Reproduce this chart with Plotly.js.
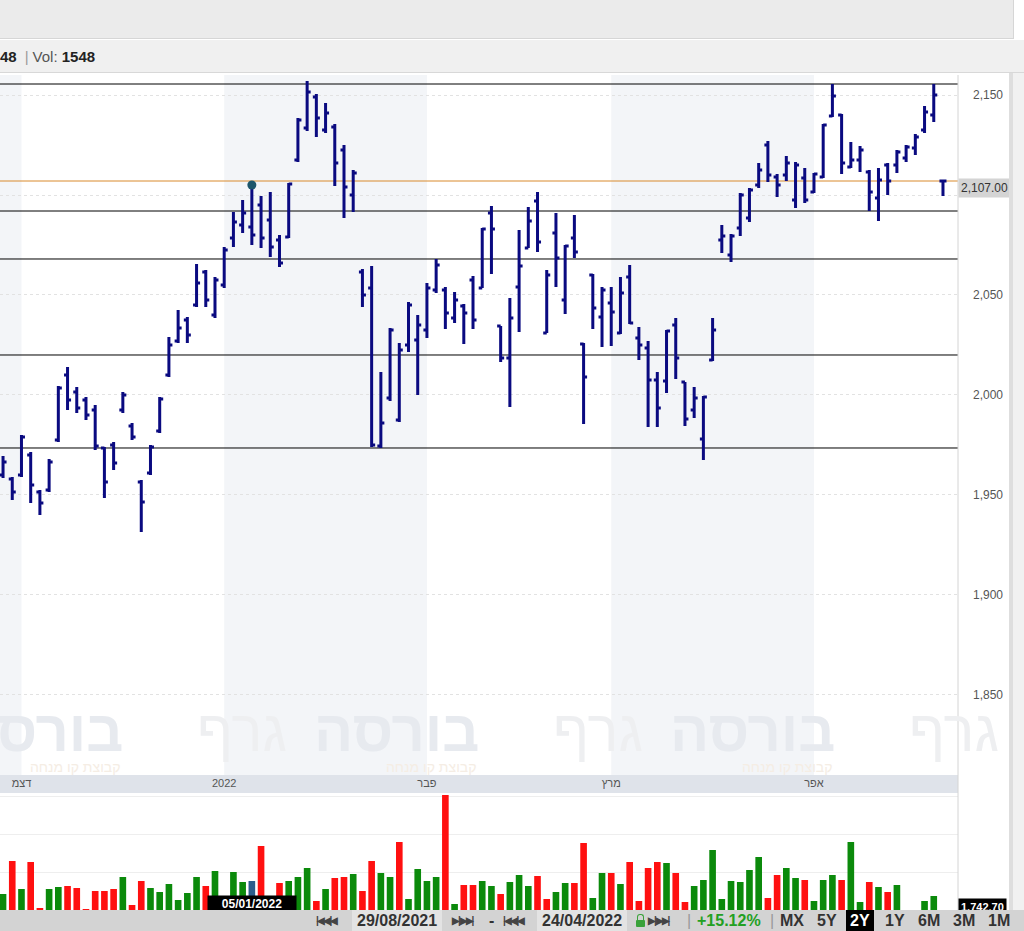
<!DOCTYPE html>
<html>
<head>
<meta charset="utf-8">
<script src="https://cdn.plot.ly/plotly-3.0.1.min.js"></script>
<style>
  html, body { margin: 0; padding: 0; width: 1024px; height: 931px; overflow: hidden; background: #fff;
    font-family: "Liberation Sans", Arial, sans-serif; }
  #top { position: absolute; left: 0; top: 0; width: 1013px; height: 38px; background: #ebebeb;
    border-bottom: 1px solid #d6d6d6; border-right: 1px solid #d6d6d6; }
  #info { position: absolute; left: 0; top: 40px; width: 1024px; height: 32px; background: #f0f0f0;
    border-bottom: 1px solid #d8d8d8; font-size: 15px; line-height: 33px; color: #222; white-space: nowrap; }
  #info b { font-weight: bold; }
  #info .sep { color: #999; margin: 0 4px 0 8px; }
  #info .lbl { color: #555; }
  #chart { position: absolute; left: 0; top: 73px; width: 1024px; height: 837px; }
  #rail1 { position: absolute; left: 1009px; top: 73px; width: 4px; height: 837px; background: #dedede; }
  #rail2 { position: absolute; left: 1013px; top: 73px; width: 11px; height: 837px; background: #f1f1f1; }
  #bar { position: absolute; left: 0; top: 910px; width: 1024px; height: 21px; background: #d3d3d3;
    font-size: 16px; font-weight: bold; color: #333; white-space: nowrap; }
  #bar span { position: absolute; top: 0; line-height: 22px; }
  #bar .ico { font-size: 10px; letter-spacing: -2px; color: #444; }
  #bar .box { background: #e3e3e3; padding: 0 5px; }
  #bar .up { color: #22a022; }
  #bar .sel { background: #000; color: #fff; padding: 0 4px; }
  #bar .thin { color: #999; font-weight: normal; }
  #lock { position: absolute; left: 636px; top: 10px; width: 9px; height: 7px; background: #3aa23a; border-radius: 1px; }
  #lock:before { content: ""; position: absolute; left: 1px; top: -6px; width: 5px; height: 5px;
    border: 1px solid #3aa23a; border-bottom: none; border-radius: 3px 3px 0 0; }
</style>
</head>
<body>
<div id="top"></div>
<div id="info"><b>48</b><span class="sep">|</span><span class="lbl">Vol: </span><b>1548</b></div>
<div id="chart"></div>
<div id="rail1"></div>
<div id="rail2"></div>
<div id="bar">
  <span class="ico" style="left:316px">|◀◀ |◀</span>
  <span class="box" style="left:352px">29/08/2021</span>
  <span class="ico" style="left:452px">▶| ▶▶|</span>
  <span style="left:489px">-</span>
  <span class="ico" style="left:503px">|◀◀ |◀</span>
  <span class="box" style="left:537px">24/04/2022</span>
  <div id="lock"></div>
  <span class="ico" style="left:648px">▶| ▶▶|</span>
  <span class="thin" style="left:687px">|</span>
  <span class="up" style="left:697px">+15.12%</span>
  <span class="thin" style="left:770px">|</span>
  <span style="left:780px">MX</span>
  <span style="left:817px">5Y</span>
  <span class="sel" style="left:846px">2Y</span>
  <span style="left:885px">1Y</span>
  <span style="left:918px">6M</span>
  <span style="left:953px">3M</span>
  <span style="left:988px">1M</span>
</div>
<script>
// daily bars, 29/11/2021 .. 24/04/2022
var openPx = [1960, 1958, 1960, 1970, 1951.5, 1952.5, 1977.5, 2010, 2001.5, 1997.5,
  1992.5, 1973.5, 1975, 1992.5, 1984.5, 1956.5, 1961, 1982, 2010, 2027,
  2037.5, 2045, 2061.5, 2040, 2055, 2078.5, 2085, 2084, 2095, 2087.5,
  2077.5, 2079, 2117.5, 2133.5, 2149, 2132.5, 2134, 2122.5, 2100, 2061.5,
  2053.5, 1974.5, 1998.5, 1987.5, 2025, 2027.5, 2032.5, 2052.5, 2052.5, 2038.5,
  2044.5, 2057.5, 2053.5, 2091, 2034.5, 2018.5, 2054, 2073.5, 2097, 2031,
  2081, 2047.5, 2078.5, 2025.5, 2060, 2039, 2046, 2031, 2059, 2028.5,
  2023.5, 2007.5, 2007, 2035, 2006.5, 1992.5, 1978, 2017.5, 2077.5, 2070,
  2083.5, 2088.5, 2105, 2125, 2109, 2110, 2097.5, 2108.5, 2101.5, 2109,
  2139.5, 2140, 2114, 2117.5, 2111.5, 2098.5, 2115, 2115, 2118.5, 2123.5,
  2132.5, 2140, 2107];
var highPx = [1969.5, 1959, 1980, 1971.5, 1952.5, 1968, 2004.5, 2014, 2004, 1999,
  1995, 1974, 1976.5, 2001.5, 1986, 1957.5, 1975, 1999, 2029, 2042.5,
  2039, 2065.5, 2062.5, 2059, 2074, 2091.5, 2097.5, 2105, 2099.5, 2101.5,
  2080, 2106, 2138.5, 2157, 2150.5, 2146, 2135.5, 2125, 2112.5, 2063,
  2064.5, 2011.5, 2033.5, 2026, 2046.5, 2040, 2056, 2068, 2054, 2051.5,
  2045.5, 2059.5, 2083.5, 2094.5, 2034.5, 2048.5, 2082.5, 2094, 2101.5, 2062.5,
  2091, 2075, 2090, 2026, 2060.5, 2054, 2054, 2059, 2065, 2034,
  2027, 2011.5, 2032.5, 2038.5, 2006.5, 2004, 1999.5, 2038.5, 2085, 2080.5,
  2101, 2103.5, 2116, 2127, 2110.5, 2119.5, 2116.5, 2113.5, 2111, 2135.5,
  2155.5, 2140.5, 2126.5, 2124.5, 2112.5, 2113.5, 2116, 2122.5, 2125, 2130.5,
  2144.5, 2155.5, 2107.5];
var lowPx = [1958.5, 1947.5, 1959, 1946, 1940, 1951.5, 1976.5, 1992.5, 1991, 1987.5,
  1972.5, 1948.5, 1962.5, 1991, 1977.5, 1931.5, 1960, 1981, 2009, 2026,
  2026, 2044, 2044, 2038.5, 2053.5, 2074, 2081, 2075, 2073.5, 2069,
  2064, 2078.5, 2116.5, 2132, 2129, 2131, 2104.5, 2088.5, 2091.5, 2044,
  1974, 1973.5, 1997, 1986.5, 2021.5, 2000, 2028.5, 2051, 2033, 2036,
  2025.5, 2033, 2053.5, 2060.5, 2016.5, 1994, 2031.5, 2073.5, 2071.5, 2031,
  2054, 2040.5, 2068.5, 1985.5, 2033, 2024, 2024.5, 2030.5, 2035.5, 2017.5,
  1984, 1984, 2001, 2008, 1984.5, 1988.5, 1967.5, 2017, 2071, 2066.5,
  2079.5, 2086.5, 2103.5, 2106.5, 2099, 2107, 2093.5, 2096, 2101, 2108.5,
  2139, 2110.5, 2113.5, 2111.5, 2092, 2087, 2100, 2111, 2116.5, 2120,
  2131, 2136.5, 2099.5];
var closePx = [1966.5, 1951.5, 1979, 1955, 1946, 1966.5, 2003.5, 1997.5, 1993.5, 1990,
  1974.5, 1956.5, 1966, 2000, 1979, 1946.5, 1974, 1998, 2025, 2033.5,
  2030, 2056, 2047.5, 2057.5, 2072.5, 2086.5, 2091, 2080, 2078.5, 2074,
  2066, 2105.5, 2137.5, 2151.5, 2138.5, 2141, 2116, 2104, 2111, 2050,
  1975, 1986, 2032.5, 2022.5, 2045, 2035, 2053.5, 2065, 2041, 2047.5,
  2041, 2037.5, 2083, 2083, 2018.5, 2038.5, 2064.5, 2087, 2076.5, 2060,
  2068.5, 2074.5, 2071.5, 2009, 2043.5, 2052.5, 2041.5, 2051, 2036, 2025,
  2007.5, 1993.5, 2032, 2018.5, 1988, 1998.5, 1999, 2032.5, 2079.5, 2079.5,
  2100, 2102.5, 2112.5, 2110, 2105, 2116, 2115, 2097.5, 2110.5, 2135,
  2149.5, 2116, 2117.5, 2122.5, 2101.5, 2107.5, 2107, 2121.5, 2124, 2129,
  2141.5, 2150, 2107];
var volume = [16, 49, 21, 48, 2, 21, 23, 24, 22, 1,
  19, 19, 21, 33, 5, 29, 22, 18, 26, 10,
  17, 33, 24, 39, 10, 38, 28, 29, 64, 12,
  27, 29, 33, 42, 9, 21, 32, 33, 36, 19,
  49, 37, 33, 68, 11, 41, 29, 33, 115, 6,
  25, 25, 29, 24, 16, 28, 35, 24, 34, 11,
  18, 27, 27, 67, 12, 37, 37, 26, 48, 9,
  42, 48, 47, 37, 8, 24, 30, 60, 11, 29,
  28, 40, 53, 12, 35, 42, 32, 30, 9, 30,
  35, 30, 68, 8, 28, 23, 18, 25, 0, 0,
  9, 14, 0];
var volDir = [1, -1, 1, -1, -1, 1, 1, -1, -1, -1,
  -1, -1, -1, 1, -1, -1, 1, 1, 1, 1,
  1, 1, -1, 1, 1, 1, 1, 1, -1, -1,
  -1, 1, 1, 1, -1, 1, -1, -1, 1, -1,
  -1, 1, 1, -1, 1, 1, 1, 1, -1, 1,
  -1, -1, 1, 1, -1, 1, 1, 1, -1, -1,
  1, 1, -1, -1, 1, 1, -1, 1, -1, -1,
  -1, -1, 1, -1, -1, 1, 1, 1, 1, 1,
  1, 1, 1, -1, -1, 1, 1, -1, 1, 1,
  1, -1, 1, 1, -1, 1, -1, 1, 1, 1,
  1, 1, 1];

var monthStarts = [2, 24, 46, 66, 88];
var monthNames = ['דצמ', '2022', 'פבר', 'מרץ', 'אפר'];
var levels = [2155.5, 2092, 2068, 2020, 1973.5];
var priceTicks = [1850, 1900, 1950, 2000, 2050, 2100, 2150];
var hoverIdx = 27;
var hoverDate = '05/01/2022';
var lastVolLabel = '1,742.70';

var NAVY = '#0a0a80';
var xRange = [-0.33, 103.63];
var priceDomain = [0.1617, 1];
var volDomain = [0, 0.1401];

var idx = closePx.map(function(_, i) { return i; });
var lastClose = closePx[closePx.length - 1];

function fmt(v, d) {
  return v.toLocaleString('en-US', { minimumFractionDigits: d, maximumFractionDigits: d });
}

var volColors = volDir.map(function(d, i) {
  if (i === hoverIdx) return '#2b5d8c';
  return d > 0 ? '#0b8a0b' : '#ff1010';
});

var traces = [
  {
    type: 'ohlc',
    x: idx, open: openPx, high: highPx, low: lowPx, close: closePx,
    xaxis: 'x', yaxis: 'y',
    increasing: { line: { color: NAVY, width: 3 } },
    decreasing: { line: { color: NAVY, width: 3 } },
    tickwidth: 0.38,
    hoverinfo: 'skip',
  },
  {
    type: 'scatter', mode: 'markers',
    x: [hoverIdx], y: [highPx[hoverIdx]],
    xaxis: 'x', yaxis: 'y',
    marker: { size: 9, color: '#1d566b' },
    cliponaxis: false, hoverinfo: 'skip',
  },
  {
    type: 'bar',
    x: idx, y: volume,
    xaxis: 'x2', yaxis: 'y2',
    width: 0.72,
    marker: { color: volColors, line: { width: 0 } },
    hoverinfo: 'skip',
  },
];

// month background bands
var shapes = [];
var bounds = [xRange[0]].concat(monthStarts).concat([xRange[1]]);
for (var k = 0; k < bounds.length - 1; k++) {
  if (k % 2 === 0) {
    shapes.push({
      type: 'rect', xref: 'x', yref: 'y domain', layer: 'below',
      x0: bounds[k], x1: bounds[k + 1], y0: 0, y1: 1,
      fillcolor: '#f3f5f8', line: { width: 0 },
    });
  }
}
// month label strip
shapes.push({
  type: 'rect', xref: 'paper', yref: 'paper', layer: 'below',
  x0: 0, x1: 1, y0: volDomain[1], y1: priceDomain[0],
  fillcolor: '#dfe3ea', line: { width: 0 },
});
levels.forEach(function(lv) {
  shapes.push({
    type: 'line', xref: 'paper', yref: 'y', layer: 'between',
    x0: 0, x1: 1, y0: lv, y1: lv,
    line: { color: '#000', width: 1 },
  });
});
shapes.push({
  type: 'line', xref: 'paper', yref: 'y', layer: 'between',
  x0: 0, x1: 1, y0: lastClose, y1: lastClose,
  line: { color: '#d98a2c', width: 1 },
});
shapes.push({
  type: 'line', xref: 'paper', yref: 'paper',
  x0: 1, x1: 1, y0: 0, y1: 1,
  line: { color: '#d4d4d4', width: 1 },
});

// watermark
var annotations = [];
var plotW = 958;
for (var w = -1; w <= 2; w++) {
  var left = 195 + w * 356;
  annotations.push({
    xref: 'paper', yref: 'paper', x: left / plotW, y: 0.215, xanchor: 'left', yanchor: 'middle',
    text: 'גרף', showarrow: false,
    font: { family: 'Liberation Sans, Arial', size: 58, color: '#eeeff1' },
  });
  annotations.push({
    xref: 'paper', yref: 'paper', x: (left + 286) / plotW, y: 0.215, xanchor: 'right', yanchor: 'middle',
    text: 'בורסה', showarrow: false,
    font: { family: 'Liberation Sans, Arial', size: 58, color: '#e7eaef', weight: 700 },
  });
  annotations.push({
    xref: 'paper', yref: 'paper', x: (left + 283) / plotW, y: 0.171, xanchor: 'right', yanchor: 'middle',
    text: 'קבוצת קו מנחה', showarrow: false,
    font: { family: 'Liberation Sans, Arial', size: 14, color: '#f5ede4' },
  });
}
annotations.push({
  xref: 'paper', yref: 'y', x: 1, y: lastClose, xanchor: 'left', yanchor: 'middle', yshift: -7,
  text: fmt(lastClose, 2), showarrow: false, bgcolor: '#d4d4d4', borderpad: 2,
  font: { family: 'Liberation Sans, Arial', size: 12, color: '#333' },
});
annotations.push({
  xref: 'x', yref: 'paper', x: hoverIdx, y: 0.007, xanchor: 'center', yanchor: 'middle',
  text: '<b>' + hoverDate + '</b>', showarrow: false, bgcolor: '#000', width: 86, borderpad: 1,
  font: { family: 'Liberation Sans, Arial', size: 12, color: '#fff' },
});
annotations.push({
  xref: 'paper', yref: 'paper', x: 1, y: 0.003, xanchor: 'left', yanchor: 'middle',
  text: '<b>' + lastVolLabel + '</b>', showarrow: false, bgcolor: '#000', borderpad: 2,
  font: { family: 'Liberation Sans, Arial', size: 11, color: '#fff' },
});

var layout = {
  width: 1024, height: 837,
  margin: { l: 0, r: 66, t: 2, b: 0 },
  paper_bgcolor: '#fff', plot_bgcolor: '#fff',
  showlegend: false,
  font: { family: 'Liberation Sans, Arial, sans-serif', color: '#555', size: 12 },
  xaxis: {
    domain: [0, 1], anchor: 'y', range: xRange,
    rangeslider: { visible: false },
    tickvals: monthStarts, ticktext: monthNames,
    tickfont: { size: 11, color: '#555' },
    ticks: '', showgrid: false, zeroline: false, showline: false, fixedrange: true,
  },
  yaxis: {
    domain: priceDomain, anchor: 'x', side: 'right', range: [1810, 2160],
    tickvals: priceTicks,
    ticktext: priceTicks.map(function(v) { return v === 2100 ? '' : fmt(v, 0); }),
    ticks: '', ticklabelstandoff: 14,
    tickfont: { size: 12, color: '#555' },
    showgrid: true, gridcolor: '#e2e2e2', griddash: 'dot', zeroline: false, showline: false, fixedrange: true,
  },
  xaxis2: {
    domain: [0, 1], anchor: 'y2', matches: 'x',
    showticklabels: false, ticks: '', showgrid: false, zeroline: false, showline: false, fixedrange: true,
  },
  yaxis2: {
    domain: volDomain, anchor: 'x2', side: 'right', range: [0, 117],
    dtick: 38, showticklabels: false, ticks: '',
    showgrid: true, gridcolor: '#eeeeee', zeroline: false, showline: false, fixedrange: true,
  },
  bargap: 0.28,
  shapes: shapes,
  annotations: annotations,
};

Plotly.newPlot('chart', traces, layout, { displayModeBar: false, staticPlot: true });
</script>
</body>
</html>
